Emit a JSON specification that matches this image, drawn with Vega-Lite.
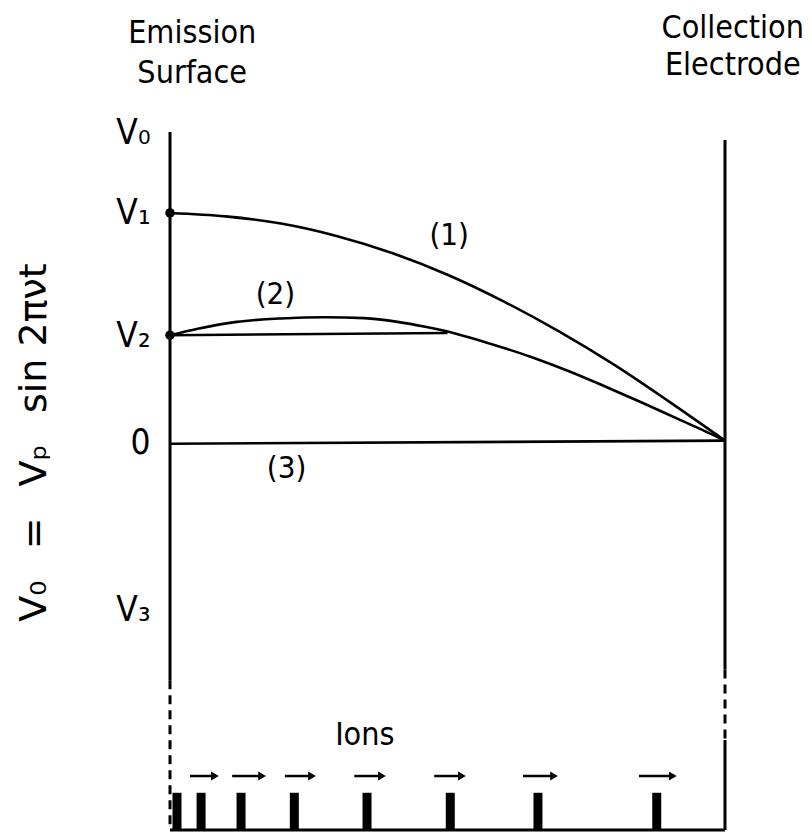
{
  "$schema": "https://vega.github.io/schema/vega-lite/v6.json",
  "autosize": {"type": "none"},
  "width": 555,
  "height": 698,
  "padding": {"left": 170, "top": 132, "right": 87, "bottom": 5},
  "background": "white",
  "config": {
    "view": {"stroke": null},
    "text": {"font": "DejaVu Sans Condensed, DejaVu Sans", "color": "black"},
    "axis": {"labelFont": "DejaVu Sans Condensed, DejaVu Sans", "titleFont": "DejaVu Sans", "labelColor": "black", "titleColor": "black"}
  },
  "datasets": {
    "frame": [
      {"side": "emission", "x": 0, "y": 1.0, "y2": -0.767, "style": "solid"},
      {"side": "emission", "x": 0, "y": -0.767, "y2": -1.25, "style": "dashed"},
      {"side": "collector", "x": 1, "y": 0.974, "y2": -0.733, "style": "solid"},
      {"side": "collector", "x": 1, "y": -0.733, "y2": -0.96, "style": "dashed"},
      {"side": "collector", "x": 1, "y": -0.96, "y2": -1.25, "style": "solid"}
    ],
    "base": [{"x": 0, "x2": 1, "y": -1.25}],
    "curves": [
      {"curve": "1", "x": 0, "y": 0.739},
      {"curve": "1", "x": 0.1, "y": 0.728},
      {"curve": "1", "x": 0.2, "y": 0.705},
      {"curve": "1", "x": 0.3, "y": 0.665},
      {"curve": "1", "x": 0.4, "y": 0.61},
      {"curve": "1", "x": 0.5, "y": 0.54},
      {"curve": "1", "x": 0.6, "y": 0.455},
      {"curve": "1", "x": 0.7, "y": 0.358},
      {"curve": "1", "x": 0.8, "y": 0.25},
      {"curve": "1", "x": 0.9, "y": 0.13},
      {"curve": "1", "x": 1.0, "y": 0.005},
      {"curve": "2", "x": 0, "y": 0.345},
      {"curve": "2", "x": 0.05, "y": 0.366},
      {"curve": "2", "x": 0.12, "y": 0.388},
      {"curve": "2", "x": 0.2, "y": 0.399},
      {"curve": "2", "x": 0.28, "y": 0.403},
      {"curve": "2", "x": 0.35, "y": 0.4},
      {"curve": "2", "x": 0.41, "y": 0.388},
      {"curve": "2", "x": 0.46, "y": 0.372},
      {"curve": "2", "x": 0.517, "y": 0.349},
      {"curve": "2", "x": 0.58, "y": 0.316},
      {"curve": "2", "x": 0.652, "y": 0.274},
      {"curve": "2", "x": 0.72, "y": 0.228},
      {"curve": "2", "x": 0.785, "y": 0.179},
      {"curve": "2", "x": 0.85, "y": 0.128},
      {"curve": "2", "x": 0.919, "y": 0.072},
      {"curve": "2", "x": 0.96, "y": 0.039},
      {"curve": "2", "x": 1.0, "y": 0.005},
      {"curve": "2b", "x": 0, "y": 0.345},
      {"curve": "2b", "x": 0.5, "y": 0.352},
      {"curve": "3", "x": 0, "y": -0.005},
      {"curve": "3", "x": 1.0, "y": 0.005}
    ],
    "dots": [
      {"label": "V1", "x": 0, "y": 0.739},
      {"label": "V2", "x": 0, "y": 0.345}
    ],
    "curveLabels": [
      {"text": "(1)", "x": 0.503, "y": 0.665},
      {"text": "(2)", "x": 0.19, "y": 0.474},
      {"text": "(3)", "x": 0.21, "y": -0.085}
    ],
    "headers": [
      {"text": "Emission", "x": 0.04, "y": 1.287},
      {"text": "Surface", "x": 0.04, "y": 1.158},
      {"text": "Collection", "x": 1.014, "y": 1.303},
      {"text": "Electrode", "x": 1.014, "y": 1.184},
      {"text": "Ions", "x": 0.351, "y": -0.975}
    ],
    "ions": [
      {"x": 0.0126}, {"x": 0.056}, {"x": 0.128}, {"x": 0.224},
      {"x": 0.355}, {"x": 0.505}, {"x": 0.663}, {"x": 0.877}
    ],
    "arrows": [
      {"x": 0.036, "x2": 0.081},
      {"x": 0.112, "x2": 0.166},
      {"x": 0.207, "x2": 0.256},
      {"x": 0.332, "x2": 0.382},
      {"x": 0.476, "x2": 0.526},
      {"x": 0.636, "x2": 0.692},
      {"x": 0.845, "x2": 0.906}
    ]
  },
  "layer": [
    {
      "data": {"name": "frame"},
      "mark": {"type": "rule", "color": "black", "strokeWidth": 3},
      "encoding": {
        "x": {"field": "x", "type": "quantitative", "scale": {"domain": [0, 1], "nice": false, "zero": false}, "axis": null},
        "y": {
          "field": "y", "type": "quantitative",
          "scale": {"domain": [-1.25, 1], "nice": false, "zero": false},
          "axis": {
            "domain": false, "ticks": false, "grid": false,
            "values": [1, 0.739, 0.345, 0, -0.54],
            "labelExpr": "datum.value == 1 ? 'V₀' : datum.value == 0.739 ? 'V₁' : datum.value == 0.345 ? 'V₂' : datum.value == 0 ? '0' : 'V₃'",
            "labelFontSize": 35, "labelPadding": 20, "labelAlign": "right", "labelBaseline": "middle",
            "labelOverlap": false, "labelBound": false, "labelFlush": false,
            "title": "V₀ \u2002= \u2002Vₚ \u2002sin 2πνt",
            "titleFontSize": 38, "titleFontWeight": "normal",
            "titleAngle": -90, "titleX": -136, "titleY": 310,
            "titleAlign": "center", "titleBaseline": "middle"
          }
        },
        "y2": {"field": "y2"},
        "strokeDash": {"field": "style", "type": "nominal", "scale": {"domain": ["solid", "dashed"], "range": [[1, 0], [9, 6]]}, "legend": null}
      }
    },
    {
      "data": {"name": "base"},
      "mark": {"type": "rule", "color": "black", "strokeWidth": 3},
      "encoding": {
        "x": {"field": "x", "type": "quantitative", "scale": {"domain": [0, 1], "nice": false, "zero": false}, "axis": null},
        "x2": {"field": "x2"},
        "y": {"field": "y", "type": "quantitative", "scale": {"domain": [-1.25, 1], "nice": false, "zero": false}}
      }
    },
    {
      "data": {"name": "curves"},
      "mark": {"type": "line", "color": "black", "strokeWidth": 2.6, "interpolate": "monotone"},
      "encoding": {
        "x": {"field": "x", "type": "quantitative", "scale": {"domain": [0, 1], "nice": false, "zero": false}, "axis": null},
        "y": {"field": "y", "type": "quantitative", "scale": {"domain": [-1.25, 1], "nice": false, "zero": false}},
        "detail": {"field": "curve", "type": "nominal"}
      }
    },
    {
      "data": {"name": "dots"},
      "mark": {"type": "point", "filled": true, "color": "black", "opacity": 1, "size": 90},
      "encoding": {
        "x": {"field": "x", "type": "quantitative", "scale": {"domain": [0, 1], "nice": false, "zero": false}, "axis": null},
        "y": {"field": "y", "type": "quantitative", "scale": {"domain": [-1.25, 1], "nice": false, "zero": false}}
      }
    },
    {
      "data": {"name": "curveLabels"},
      "mark": {"type": "text", "fontSize": 31, "align": "center", "baseline": "middle"},
      "encoding": {
        "x": {"field": "x", "type": "quantitative", "scale": {"domain": [0, 1], "nice": false, "zero": false}, "axis": null},
        "y": {"field": "y", "type": "quantitative", "scale": {"domain": [-1.25, 1], "nice": false, "zero": false}},
        "text": {"field": "text"}
      }
    },
    {
      "data": {"name": "headers"},
      "mark": {"type": "text", "fontSize": 32, "align": "center", "baseline": "alphabetic"},
      "encoding": {
        "x": {"field": "x", "type": "quantitative", "scale": {"domain": [0, 1], "nice": false, "zero": false}, "axis": null},
        "y": {"field": "y", "type": "quantitative", "scale": {"domain": [-1.25, 1], "nice": false, "zero": false}},
        "text": {"field": "text"}
      }
    },
    {
      "data": {"name": "ions"},
      "mark": {"type": "rule", "color": "black", "strokeWidth": 9},
      "encoding": {
        "x": {"field": "x", "type": "quantitative", "scale": {"domain": [0, 1], "nice": false, "zero": false}, "axis": null},
        "y": {"datum": -1.13, "type": "quantitative", "scale": {"domain": [-1.25, 1], "nice": false, "zero": false}},
        "y2": {"datum": -1.25}
      }
    },
    {
      "data": {"name": "arrows"},
      "mark": {"type": "rule", "color": "black", "strokeWidth": 2.5},
      "encoding": {
        "x": {"field": "x", "type": "quantitative", "scale": {"domain": [0, 1], "nice": false, "zero": false}, "axis": null},
        "x2": {"field": "x2"},
        "y": {"datum": -1.076, "type": "quantitative", "scale": {"domain": [-1.25, 1], "nice": false, "zero": false}}
      }
    },
    {
      "data": {"name": "arrows"},
      "mark": {"type": "point", "shape": "triangle-right", "filled": true, "color": "black", "opacity": 1, "size": 80},
      "encoding": {
        "x": {"field": "x2", "type": "quantitative", "scale": {"domain": [0, 1], "nice": false, "zero": false}, "axis": null},
        "y": {"datum": -1.076, "type": "quantitative", "scale": {"domain": [-1.25, 1], "nice": false, "zero": false}}
      }
    }
  ]
}
